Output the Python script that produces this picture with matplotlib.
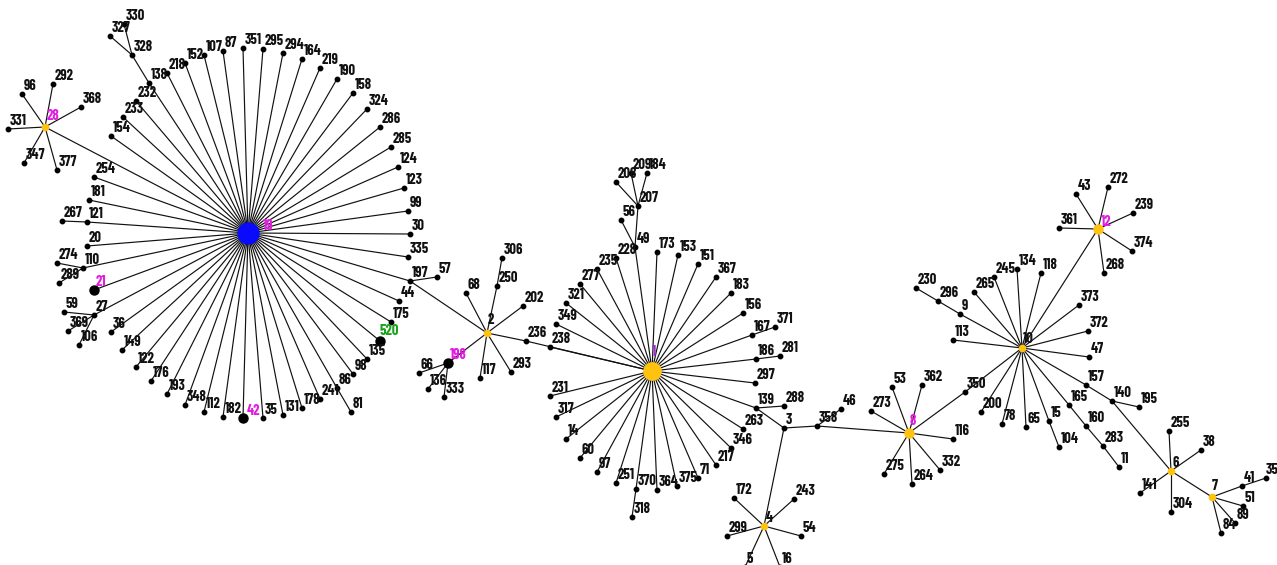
import matplotlib.pyplot as plt

# node ids, labels and positions (pixel layout of the picture, y grows downwards)
node_ids = ['19', '28', '96', '292', '368', '331', '347', '377', '330', '327', '328', '138', '232', '233', '154',
            '218', '152', '107', '87', '351', '295', '294', '164', '219', '190', '158', '324', '286', '285', '124',
            '123', '99', '30', '335', '197', '57', '44', '175', '520', '135', '98', '86', '81', '241', '178', '131',
            '35a', '42', '182', '112', '348', '193', '176', '122', '149', '36', '27', '59', '369', '106', '21', '110',
            '274', '289', '20', '121', '267', '181', '254',
            '2', '68', '250', '306', '202', '198', '66', '136', '333', '117', '293', '236', '238',
            '1', '231', '317', '349', '321', '277', '235', '228', '49', '56', '207', '208', '209', '184', '173', '153',
            '151', '367', '183', '156', '167', '371', '186', '281', '297', '139', '288', '263', '346', '217', '71',
            '375', '364', '370', '318', '251', '97', '60', '14',
            '3', '358', '46', '4', '172', '243', '299', '54', '5', '16',
            '8', '53', '362', '273', '350', '116', '275', '264', '332',
            '10', '230', '296', '9', '113', '265', '245', '134', '118', '373', '372', '47', '157', '140', '195', '165',
            '160', '283', '11', '15', '104', '65', '78', '200', '12', '43', '272', '239', '361', '374', '268', '6',
            '255', '38', '141', '304', '7', '41', '35b', '51', '89', '84']
node_x = [248, 45, 22, 53, 81, 8, 24, 57, 124, 110, 132, 149, 136, 123, 111,
          167, 185, 204, 223, 243, 263, 283, 302, 320, 337, 353, 367, 380, 391, 398,
          404, 408, 410, 408, 410, 437, 399, 391, 380, 367, 353, 337, 351, 320, 302, 283,
          263, 243, 223, 204, 185, 167, 151, 136, 122, 111, 94, 64, 68, 79, 94, 83,
          57, 59, 87, 87, 62, 89, 94,
          487, 466, 497, 502, 523, 448, 419, 428, 444, 480, 511, 526, 550,
          652, 550, 556, 556, 566, 580, 597, 616, 635, 621, 638, 616, 631, 647, 657, 678,
          698, 716, 731, 743, 752, 775, 756, 780, 755, 756, 784, 743, 731, 716, 698,
          677, 657, 636, 632, 616, 597, 580, 566,
          784, 817, 841, 764, 734, 794, 727, 801, 745, 780,
          909, 892, 922, 871, 965, 953, 884, 912, 940,
          1022, 916, 938, 960, 953, 974, 994, 1017, 1041, 1079, 1088, 1089, 1086, 1112, 1139, 1069,
          1086, 1103, 1119, 1049, 1059, 1026, 1002, 981, 1098, 1076, 1108, 1133, 1059, 1132, 1104, 1171,
          1169, 1201, 1140, 1171, 1212, 1242, 1266, 1243, 1235, 1221]
node_y = [233, 127, 94, 84, 107, 129, 163, 170, 24, 36, 55, 83, 101, 117, 136,
          73, 63, 55, 51, 48, 49, 53, 59, 68, 79, 93, 109, 127, 147, 167,
          188, 211, 234, 257, 281, 277, 301, 322, 341, 359, 374, 388, 412, 399, 408, 415,
          418, 418, 417, 412, 405, 394, 381, 367, 350, 332, 315, 312, 331, 345, 290, 268,
          263, 283, 246, 222, 221, 200, 177,
          333, 293, 286, 258, 306, 363, 373, 389, 397, 378, 372, 341, 347,
          371, 396, 417, 324, 303, 284, 269, 258, 247, 220, 206, 182, 173, 173, 252, 255,
          264, 277, 293, 313, 335, 327, 359, 356, 383, 408, 406, 429, 448, 465, 478,
          486, 490, 489, 517, 483, 472, 458, 439,
          428, 426, 409, 526, 498, 499, 536, 536, 567, 567,
          433, 387, 385, 411, 392, 439, 474, 484, 470,
          348, 288, 301, 314, 340, 292, 277, 269, 273, 305, 331, 357, 385, 401, 407, 405,
          426, 446, 467, 421, 447, 427, 424, 412, 229, 194, 187, 213, 228, 251, 273, 471,
          431, 450, 493, 512, 497, 486, 478, 506, 523, 533]

# edges of the tree
edges = [('19', n) for n in ['28', '138', '232', '233', '154', '218', '152', '107', '87', '351', '295', '294', '164',
                             '219', '190', '158', '324', '286', '285', '124', '123', '99', '30', '335', '197', '44',
                             '175', '520', '135', '98', '86', '241', '178', '131', '35a', '42', '182', '112', '348',
                             '193', '176', '122', '149', '36', '27', '21', '110', '20', '121', '181', '254']]
edges += [('28', n) for n in ['96', '292', '368', '331', '347', '377']]
edges += [('138', '328'), ('328', '327'), ('328', '330'), ('197', '57'), ('197', '2'), ('86', '81'),
          ('27', '59'), ('27', '369'), ('27', '106'), ('110', '274'), ('110', '289'), ('121', '267')]
edges += [('2', n) for n in ['68', '250', '202', '236', '293', '117', '198']]
edges += [('250', '306'), ('198', '66'), ('198', '136'), ('198', '333'), ('236', '1')]
edges += [('1', n) for n in ['238', '231', '317', '349', '321', '277', '235', '228', '49', '173', '153', '151',
                             '367', '183', '156', '167', '186', '297', '139', '263', '346', '217', '71', '375',
                             '364', '370', '251', '97', '60', '14']]
edges += [('49', '56'), ('49', '207'), ('207', '208'), ('207', '209'), ('207', '184'), ('167', '371'),
          ('186', '281'), ('370', '318'), ('139', '288'), ('139', '3'), ('3', '358'), ('358', '46'),
          ('358', '8'), ('3', '4')]
edges += [('4', n) for n in ['172', '243', '299', '54', '5', '16']]
edges += [('8', n) for n in ['53', '362', '273', '350', '116', '275', '264', '332']]
edges += [('350', '10'), ('9', '296'), ('296', '230')]
edges += [('10', n) for n in ['9', '113', '265', '245', '134', '118', '12', '373', '372', '47', '157', '165',
                              '15', '65', '78', '200']]
edges += [('157', '140'), ('140', '195'), ('140', '6'), ('165', '160'), ('160', '283'), ('283', '11'),
          ('15', '104')]
edges += [('12', n) for n in ['43', '272', '239', '361', '374', '268']]
edges += [('6', n) for n in ['255', '38', '141', '304', '7']]
edges += [('7', n) for n in ['41', '51', '89', '84']]
edges += [('41', '35b')]

big_black = ['21', '42', '198', '520']
small_hubs = ['28', '2', '4', '6', '7', '10']
mid_hubs = ['8', '12']
magenta_labels = ['28', '19', '21', '42', '198', '12', '8']
label_offsets = {'19': (15, 0), '1': (0, -12), '2': (1, -6), '10': (1, -2), '28': (2, -4),
                 '8': (1, -5), '12': (3, 0), '7': (0, -4), '42': (4, 0), '520': (0, -3), '35b': (0, -1)}

pos = {n: (x, y) for n, x, y in zip(node_ids, node_x, node_y)}

fig = plt.figure(figsize=(12.77, 5.65), dpi=100)
ax = fig.add_axes([0, 0, 1, 1])
ax.set_xlim(0, 1277)
ax.set_ylim(565, 0)
ax.axis('off')

for a, b in edges:
    ax.plot([pos[a][0], pos[b][0]], [pos[a][1], pos[b][1]], color='#111111', lw=0.85, zorder=1)

for n in node_ids:
    x, y = pos[n]
    if n == '19':
        ax.plot(x, y, 'o', color='#0a0aff', ms=15, zorder=3)
    elif n == '1':
        ax.plot(x, y, 'o', color='#ffc20e', ms=12.5, zorder=3)
    elif n in mid_hubs:
        ax.plot(x, y, 'o', color='#ffc20e', ms=6.5, zorder=3)
    elif n in small_hubs:
        ax.plot(x, y, 'o', color='#ffc20e', ms=4.5, zorder=3)
    elif n in big_black:
        ax.plot(x, y, 'o', color='black', ms=6.5, zorder=3)
    else:
        ax.plot(x, y, 'o', color='black', ms=3.2, zorder=3)

    label = n.rstrip('ab')
    dx, dy = label_offsets.get(n, (1.5, -1))
    if n in magenta_labels:
        col = '#e01ee0'
    elif n == '1':
        col = '#9b30c8'
    elif n == '520':
        col = '#1aa01a'
    else:
        col = '#111111'
    ax.text(x + dx, y + dy, label, color=col, fontsize=10.5, fontweight='bold',
            family=['Barlow Condensed', 'Oswald', 'Roboto Condensed', 'DejaVu Sans'],
            ha='left', va='bottom', zorder=4)

fig.savefig('out.png', dpi=100, facecolor='white')
